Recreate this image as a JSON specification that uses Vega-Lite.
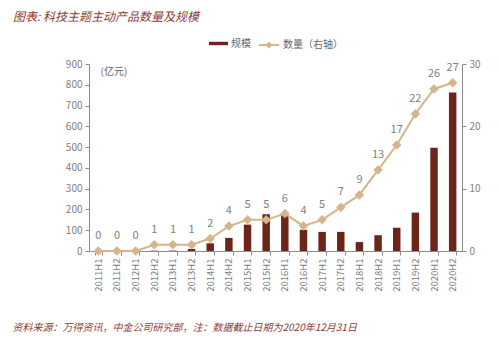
{
  "$schema": "https://vega.github.io/schema/vega-lite/v6.json",
  "width": 373,
  "height": 187,
  "autosize": {"type": "none"},
  "padding": {"left": 89, "top": 64, "right": 38, "bottom": 91},
  "background": "white",
  "title": {
    "text": "图表: 科技主题主动产品数量及规模",
    "anchor": "start",
    "frame": "group",
    "orient": "top",
    "dx": -76,
    "offset": 10,
    "font": "Noto Sans CJK SC",
    "fontSize": 12,
    "fontStyle": "italic",
    "fontWeight": "normal",
    "color": "#8E3B33"
  },
  "config": {
    "view": {"stroke": null},
    "font": "Noto Sans CJK SC",
    "axis": {
      "grid": false,
      "domainColor": "#8c8c8c",
      "tickColor": "#8c8c8c",
      "labelColor": "#808080",
      "labelFont": "Noto Sans CJK SC",
      "labelFontSize": 10,
      "labelOverlap": false,
      "labelFlush": false,
      "tickSize": 4
    },
    "legend": {
      "labelColor": "#666666",
      "labelFont": "Noto Sans CJK SC",
      "labelFontSize": 10,
      "padding": 0,
      "labelOffset": 3
    }
  },
  "data": {
    "values": [
      {"period": "2011H1", "aum": 0, "count": 0},
      {"period": "2011H2", "aum": 0, "count": 0},
      {"period": "2012H1", "aum": 0, "count": 0},
      {"period": "2012H2", "aum": 1.5, "count": 1},
      {"period": "2013H1", "aum": 2, "count": 1},
      {"period": "2013H2", "aum": 10, "count": 1},
      {"period": "2014H1", "aum": 37, "count": 2},
      {"period": "2014H2", "aum": 63, "count": 4},
      {"period": "2015H1", "aum": 127, "count": 5},
      {"period": "2015H2", "aum": 177, "count": 5},
      {"period": "2016H1", "aum": 172, "count": 6},
      {"period": "2016H2", "aum": 102, "count": 4},
      {"period": "2017H1", "aum": 92, "count": 5},
      {"period": "2017H2", "aum": 92, "count": 7},
      {"period": "2018H1", "aum": 43, "count": 9},
      {"period": "2018H2", "aum": 76, "count": 13},
      {"period": "2019H1", "aum": 112, "count": 17},
      {"period": "2019H2", "aum": 185, "count": 22},
      {"period": "2020H1", "aum": 497, "count": 26},
      {"period": "2020H2", "aum": 763, "count": 27}
    ]
  },
  "encoding": {
    "x": {
      "field": "period",
      "type": "ordinal",
      "sort": null,
      "scale": {"paddingInner": 0.6, "paddingOuter": 0.3},
      "axis": {
        "labelAngle": -90,
        "labelFontSize": 9.5,
        "labelPadding": 3,
        "tickBand": "extent",
        "title": "资料来源：万得资讯，中金公司研究部，注：数据截止日期为2020年12月31日",
        "titleAnchor": "start",
        "titleAlign": "left",
        "titleBaseline": "alphabetic",
        "titleX": -77,
        "titleY": 79,
        "titleFont": "Noto Sans CJK SC",
        "titleFontSize": 10,
        "titleFontStyle": "italic",
        "titleFontWeight": "normal",
        "titleColor": "#8E3B33"
      }
    }
  },
  "layer": [
    {
      "mark": {"type": "bar", "color": "#6C2519"},
      "encoding": {
        "y": {
          "field": "aum",
          "type": "quantitative",
          "scale": {"domain": [0, 900], "nice": false},
          "axis": {
            "values": [0, 100, 200, 300, 400, 500, 600, 700, 800, 900],
            "title": "(亿元)",
            "titleAngle": 0,
            "titleAlign": "left",
            "titleBaseline": "middle",
            "titleX": 11,
            "titleY": 7,
            "titleFontSize": 10,
            "titleFontWeight": "normal",
            "titleColor": "#666666",
            "labelPadding": 3
          }
        },
        "color": {
          "datum": "规模",
          "scale": {"range": ["#6C2519"]},
          "legend": {
            "orient": "none",
            "legendX": 120,
            "legendY": -30,
            "title": null,
            "symbolType": "M-1,-0.18H1V0.18H-1Z",
            "symbolSize": 361,
            "symbolStrokeWidth": 0
          }
        }
      }
    },
    {
      "layer": [
        {
          "mark": {
            "type": "line",
            "strokeWidth": 2,
            "point": {"shape": "diamond", "filled": true, "fill": "#D4B68A", "size": 45}
          },
          "encoding": {
            "y": {
              "field": "count",
              "type": "quantitative",
              "scale": {"domain": [0, 30], "nice": false},
              "axis": {
                "orient": "right",
                "values": [0, 5, 10, 15, 20, 25, 30],
                "title": null,
                "labelPadding": 3
              }
            },
            "stroke": {
              "datum": "数量（右轴）",
              "scale": {"range": ["#D4B68A"]},
              "legend": {
                "orient": "none",
                "legendX": 169,
                "legendY": -30,
                "title": null,
                "symbolType": "M-1,0H1M0,-0.2L0.2,0L0,0.2L-0.2,0Z",
                "symbolSize": 400,
                "symbolStrokeWidth": 2,
                "symbolFillColor": "#D4B68A"
              }
            }
          }
        },
        {
          "mark": {"type": "text", "dy": -15, "fontSize": 11, "color": "#808080", "font": "Noto Sans CJK SC"},
          "encoding": {
            "y": {"field": "count", "type": "quantitative"},
            "text": {"field": "count", "type": "quantitative"}
          }
        }
      ]
    }
  ],
  "resolve": {"scale": {"y": "independent"}}
}
